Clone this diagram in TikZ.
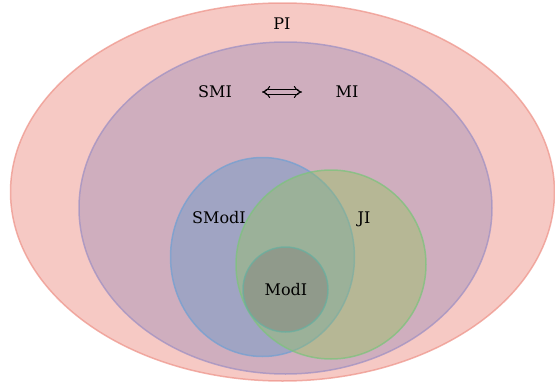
\documentclass[tikz,border=0pt]{standalone}
\usepackage{fontspec}
\setmainfont{DejaVu Serif}
\usepackage{tikz}
\usetikzlibrary{arrows.meta}

\definecolor{pifill}{RGB}{229,101,86}
\definecolor{piedge}{RGB}{238,150,140}
\definecolor{smifill}{RGB}{149,134,181}
\definecolor{smiedge}{RGB}{160,145,195}
\definecolor{smibg}{RGB}{207,174,190}
\definecolor{smodfill}{RGB}{90,149,205}
\definecolor{smodedge}{RGB}{115,160,210}
\definecolor{jifill}{RGB}{147,197,90}
\definecolor{jiedge}{RGB}{125,195,125}
\definecolor{modfill}{RGB}{130,122,119}
\definecolor{modedge}{RGB}{105,175,160}

\begin{document}
\begin{tikzpicture}
      [line cap=round,line join=round,x=1pt,y=-1pt,
       set/.style={fill opacity=0.4,draw opacity=0.75,line width=1.5pt},
       lbl/.style={font=\fontsize{16}{19}\selectfont,inner sep=1pt},
       equiv/.style={double=smibg,double distance=3.2pt,line width=1pt,{Implies[scale=2]}-{Implies[scale=2]},shorten <=47pt,shorten >=45pt}]

\useasboundingbox (0,0) rectangle (555,383);

%outer sets
 \draw[set,fill=pifill,draw=piedge,fill opacity=0.35] (282.5,192) ellipse [x radius=272,y radius=189];
 \draw[set,fill=smifill,draw=smiedge] (285.5,208) ellipse [x radius=206.5,y radius=166];

%inner sets
 \draw[set,fill=smodfill,draw=smodedge] (262.5,257) ellipse [x radius=92,y radius=99.5];
 \draw[set,fill=jifill,draw=jiedge] (331,264.5) ellipse [x radius=95,y radius=94.5];
 \draw[set,fill=modfill,draw=modedge] (285.5,289.5) circle [radius=42.5];

%labels
 \node[lbl] (pi) at (282,24) {PI};
 \node[lbl] (smi) at (215,92) {SMI};
 \node[lbl] (mi) at (347,92) {MI};
 \node[lbl] (smodi) at (219,218) {SModI};
 \node[lbl] (ji) at (364,219) {JI};
 \node[lbl] (modi) at (286,290) {ModI};

 \draw[equiv] (smi.center) -- (mi.center);

\end{tikzpicture}
\end{document}
